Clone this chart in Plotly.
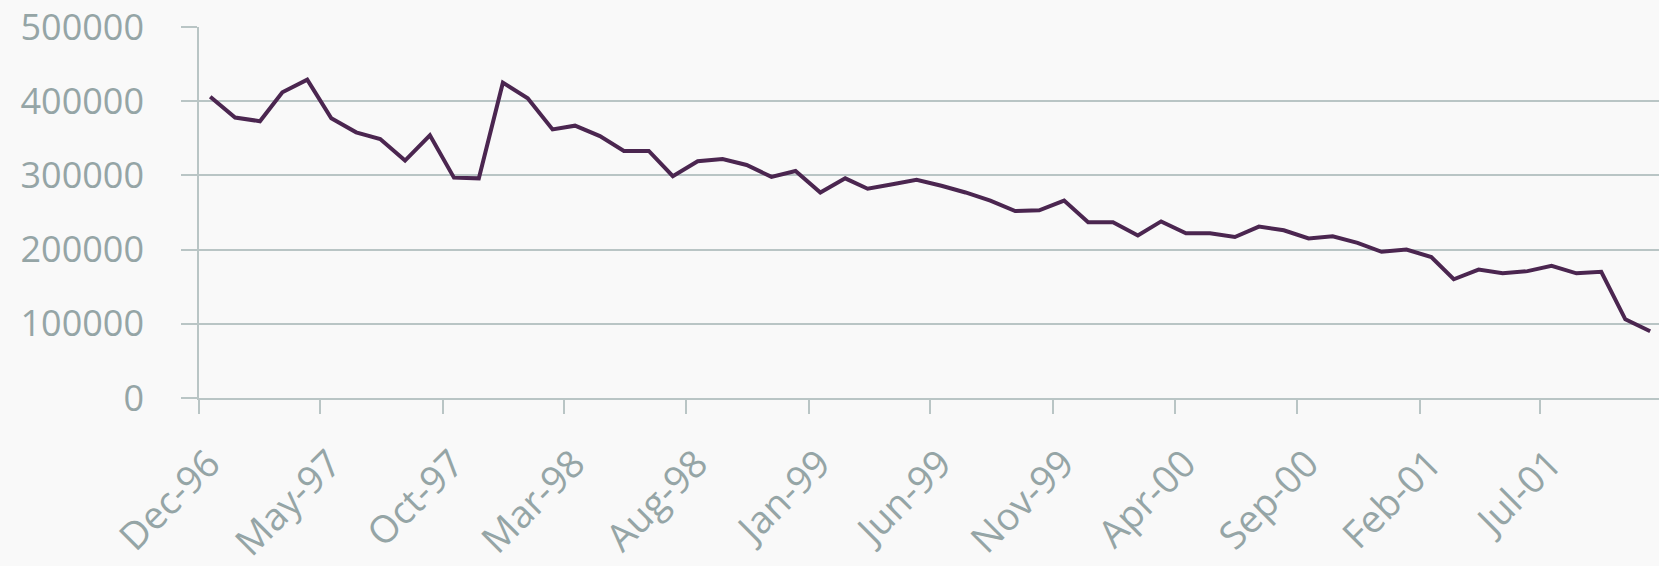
import pandas as pd
import plotly.graph_objects as go

# monthly series, Dec-96 .. Nov-01
start_month = "1996-12-01"
n_months = 60
values = [
    406000, 378000, 373000, 412000, 429000, 377000, 358000, 349000, 320000, 354000,
    297000, 296000, 425000, 404000, 362000, 367000, 353000, 333000, 333000, 299000,
    319000, 322000, 314000, 298000, 306000, 277000, 296000, 282000, 288000, 294000,
    286000, 277000, 266000, 252000, 253000, 266000, 237000, 237000, 219000, 238000,
    222000, 222000, 217000, 231000, 226000, 215000, 218000, 209000, 197000, 200000,
    190000, 160000, 173000, 168000, 171000, 178000, 168000, 170000, 106000, 90000,
]
y_ticks = [0, 100000, 200000, 300000, 400000, 500000]

months = pd.date_range(start_month, periods=n_months, freq="MS") + pd.Timedelta(days=14)

grey = "#95a5a6"
grid = "#b9c5c5"

fig = go.Figure()
fig.add_trace(go.Scatter(
    x=months, y=values, mode="lines",
    line=dict(color="#4b2650", width=4),
    hoverinfo="x+y",
))

fig.update_xaxes(
    type="date",
    range=["1996-12-01", "2001-11-26"],
    tick0="1996-12-01", dtick="M5", tickformat="%b-%y",
    tickangle=-45,
    ticks="outside", ticklen=14, tickwidth=1.5, tickcolor=grid,
    showline=True, linecolor=grid, linewidth=2,
    showgrid=False, zeroline=False,
    ticklabeloverflow="allow", ticklabelstandoff=12, ticklabelshift=10,
    tickfont=dict(family="Open Sans", size=38, color=grey),
)
fig.update_yaxes(
    range=[0, 500000], tickvals=y_ticks, tickformat="d",
    ticks="outside", ticklen=16, tickwidth=1.5, tickcolor=grid,
    showline=True, linecolor=grid, linewidth=1.5,
    showgrid=True, gridcolor=grid, gridwidth=1.5, zeroline=False,
    ticklabelstandoff=30, ticklabeloverflow="allow",
    tickfont=dict(family="Open Sans", size=36, color=grey),
)

fig.update_layout(
    width=1659, height=566,
    margin=dict(l=199, r=0, t=27, b=163),
    paper_bgcolor="#f9f9f9", plot_bgcolor="#f9f9f9",
    showlegend=False,
)

fig.write_html("out.html", config={"displayModeBar": False},
               post_script="document.body.style.margin='0';")
